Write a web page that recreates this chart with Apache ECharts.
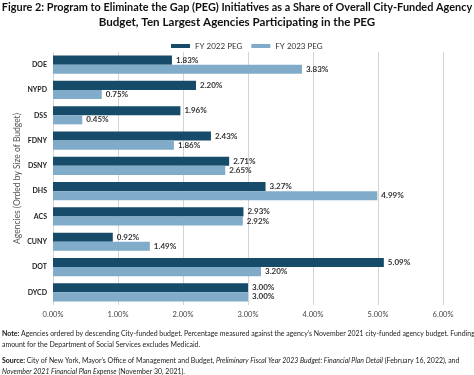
<!DOCTYPE html>
<html>
<head>
<meta charset="utf-8">
<script src="https://cdn.jsdelivr.net/npm/echarts@6/dist/echarts.min.js"></script>
<style>
  html, body { margin: 0; padding: 0; background: #fff; }
  #main { width: 474px; height: 375px; }
</style>
</head>
<body>
<div id="main"></div>
<script>
var AGENCIES = ['DOE', 'NYPD', 'DSS', 'FDNY', 'DSNY', 'DHS', 'ACS', 'CUNY', 'DOT', 'DYCD'];
var FY2022 = [1.83, 2.20, 1.96, 2.43, 2.71, 3.27, 2.93, 0.92, 5.09, 3.00];
var FY2023 = [3.83, 0.75, 0.45, 1.86, 2.65, 4.99, 2.92, 1.49, 3.20, 3.00];
var SERIES_NAMES = ['FY 2022 PEG', 'FY 2023 PEG'];
var TITLE_LINES = [
    'Figure 2: Program to Eliminate the Gap (PEG) Initiatives as a Share of Overall City-Funded Agency',
    'Budget, Ten Largest Agencies Participating in the PEG'
];

var DARK = '#174b6a';
var LIGHT = '#80abc9';
var FONT = 'Lato';

var chart = echarts.init(document.getElementById('main'));

var labelStyle = {
    show: true,
    position: 'right',
    distance: 4,
    fontFamily: FONT,
    fontSize: 8,
    fontWeight: 'bold',
    color: '#333',
    formatter: function (p) { return p.value.toFixed(2) + '%'; }
};

function titleLine(txt, y, size) {
    return {
        type: 'text',
        x: 237,
        y: y,
        style: {
            text: txt,
            align: 'center',
            verticalAlign: 'top',
            fontFamily: FONT,
            fontSize: size,
            fontWeight: 'bold',
            fill: '#111'
        }
    };
}

chart.setOption({
    animation: false,
    legend: {
        data: SERIES_NAMES,
        top: 37,
        left: 166,
        itemWidth: 19,
        itemHeight: 4,
        itemGap: 9,
        icon: 'rect',
        textStyle: { fontFamily: FONT, fontSize: 8, color: '#333' }
    },
    grid: {
        left: 53,
        right: 31,
        top: 52,
        bottom: 70,
        containLabel: false
    },
    xAxis: {
        type: 'value',
        min: 0,
        max: 6,
        interval: 1,
        axisLine: { show: false },
        axisTick: { show: false },
        splitLine: { lineStyle: { color: '#d4d4d4', width: 1 } },
        axisLabel: {
            fontFamily: FONT,
            fontSize: 7.5,
            color: '#444',
            margin: 6,
            formatter: function (v) { return v.toFixed(2) + '%'; }
        }
    },
    yAxis: {
        type: 'category',
        data: AGENCIES,
        inverse: true,
        name: 'Agencies (Orded by Size of Budget)',
        nameLocation: 'middle',
        nameGap: 31,
        nameMoveOverlap: false,
        nameRotate: 90,
        nameTextStyle: { fontFamily: FONT, fontSize: 8.5, color: '#555' },
        axisLine: { show: false },
        axisTick: { show: false },
        axisLabel: {
            fontFamily: FONT,
            fontSize: 7,
            fontWeight: 'bold',
            color: '#222',
            margin: 6
        }
    },
    series: [
        {
            name: SERIES_NAMES[0],
            type: 'bar',
            data: FY2022,
            barGap: '0%',
            barCategoryGap: '28%',
            itemStyle: { color: DARK },
            label: labelStyle
        },
        {
            name: SERIES_NAMES[1],
            type: 'bar',
            data: FY2023,
            itemStyle: { color: LIGHT },
            label: labelStyle
        }
    ],
    graphic: [
        titleLine(TITLE_LINES[0], 2, 10.9),
        titleLine(TITLE_LINES[1], 16, 11.6),
        {
            type: 'text',
            left: 2,
            top: 328,
            style: {
                text: '{b|Note:} Agencies ordered by descending City-funded budget. Percentage measured against the agency\u2019s November 2021 city-funded agency budget. Funding\namount for the Department of Social Services excludes Medicaid.',
                fontFamily: FONT,
                fontSize: 6.95,
                lineHeight: 11,
                fill: '#222',
                rich: {
                    b: { fontFamily: FONT, fontSize: 6.95, fontWeight: 'bold', fill: '#111' }
                }
            }
        },
        {
            type: 'text',
            left: 2,
            top: 355,
            style: {
                text: '{b|Source:} City of New York, Mayor\u2019s Office of Management and Budget, {i|Preliminary Fiscal Year 2023 Budget: Financial Plan Detail} (February 16, 2022), and\n{i|November 2021 Financial Plan Expense} (November 30, 2021).',
                fontFamily: FONT,
                fontSize: 6.95,
                lineHeight: 11,
                fill: '#222',
                rich: {
                    b: { fontFamily: FONT, fontSize: 6.95, fontWeight: 'bold', fill: '#111' },
                    i: { fontFamily: FONT, fontSize: 6.95, fontStyle: 'italic', fill: '#222' }
                }
            }
        }
    ]
});
</script>
</body>
</html>
